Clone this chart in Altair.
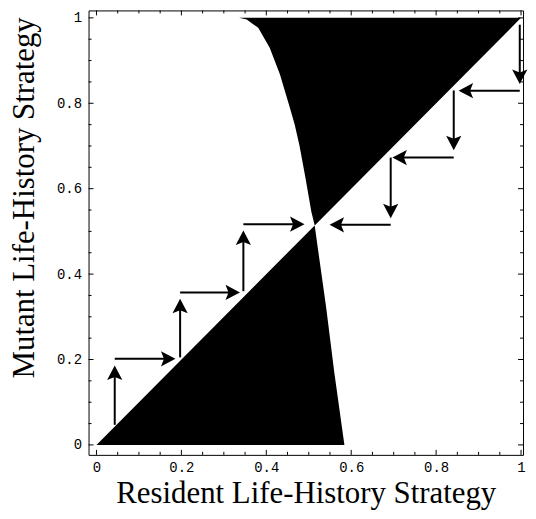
import altair as alt
import pandas as pd

# ---- data ----
# boundary where the mutant's invasion fitness changes sign (resident x, mutant y)
curve_resident = [0.336, 0.354, 0.365, 0.381, 0.408, 0.432, 0.455, 0.467, 0.478,
                  0.4925, 0.506, 0.514, 0.5215, 0.541, 0.5605, 0.584]
curve_mutant = [1.0, 0.996, 0.988, 0.977, 0.930, 0.868, 0.791, 0.750, 0.702,
                0.624, 0.5465, 0.514, 0.46, 0.322, 0.167, 0.0]
singular_strategy = 0.514

# staircase arrows (start -> tip)
arrow_x0 = [0.043, 0.043, 0.197, 0.197, 0.346, 0.346,
            0.997, 0.997, 0.8415, 0.8415, 0.693, 0.693]
arrow_y0 = [0.047, 0.2016, 0.205, 0.357, 0.36, 0.517,
            0.984, 0.8295, 0.83, 0.673, 0.673, 0.5155]
arrow_x1 = [0.043, 0.186, 0.197, 0.338, 0.346, 0.49,
            0.997, 0.853, 0.8415, 0.697, 0.693, 0.549]
arrow_y1 = [0.186, 0.2016, 0.342, 0.357, 0.502, 0.517,
            0.845, 0.8295, 0.69, 0.673, 0.531, 0.5155]

tick_major = [0, 0.2, 0.4, 0.6, 0.8, 1.0]
tick_minor = [0.05, 0.1, 0.15, 0.25, 0.3, 0.35, 0.45, 0.5, 0.55,
              0.65, 0.7, 0.75, 0.85, 0.9, 0.95]

W, H = 437, 447
xs = alt.Scale(domain=[-0.0187, 1.0047], nice=False, zero=False)
ys = alt.Scale(domain=[-0.0233, 1.0174], nice=False, zero=False)

# ---- tables ----
upper_rows = [(x, y, 1.0) for x, y in zip(curve_resident, curve_mutant) if y >= singular_strategy]
upper_rows.append((1.0, 1.0, 1.0))
upper = pd.DataFrame(upper_rows, columns=["x", "y", "y2"])

lower_rows = [(0.0, 0.0, 0.0)]
lower_rows += [(x, y, 0.0) for x, y in zip(curve_resident, curve_mutant) if y <= singular_strategy]
lower = pd.DataFrame(lower_rows, columns=["x", "y", "y2"])

arows = []
for x0, y0, x1, y1 in zip(arrow_x0, arrow_y0, arrow_x1, arrow_y1):
    dx, dy = x1 - x0, y1 - y0
    if abs(dy) > abs(dx):
        s = 1 if dy > 0 else -1
        ang = 0 if s > 0 else 180
        ex, ey = x1, y1 - 0.02 * s
    else:
        s = 1 if dx > 0 else -1
        ang = 90 if s > 0 else 270
        ex, ey = x1 - 0.02 * s, y1
    arows.append(dict(x0=x0, y0=y0, x1=x1, y1=y1, ex=ex, ey=ey, ang=ang))
arrows = pd.DataFrame(arows)

major_df = pd.DataFrame({"v": tick_major})
minor_df = pd.DataFrame({"v": tick_minor})

x_axis = alt.Axis(values=tick_major, format="~g", title="Resident Life-History Strategy",
                  grid=False, domain=False, ticks=False, labelPadding=6,
                  labelFont="Liberation Mono", labelFontSize=14, labelColor="black",
                  labelFlush=False, labelOverlap=False,
                  titleFont="Liberation Serif", titleFontSize=31, titleFontWeight="normal",
                  titleColor="black", titleY=55, titleBaseline="bottom")
y_axis = alt.Axis(values=tick_major, format="~g", title="Mutant Life-History Strategy",
                  grid=False, domain=False, ticks=False, labelPadding=7,
                  labelFont="Liberation Mono", labelFontSize=14, labelColor="black",
                  labelFlush=False, labelOverlap=False,
                  titleFont="Liberation Serif", titleFontSize=31, titleFontWeight="normal",
                  titleColor="black", titleAngle=270, titleX=-79, titleY=188,
                  titleAlign="center", titleBaseline="top")

upper_area = alt.Chart(upper).mark_area(color="black", opacity=1).encode(
    x=alt.X("x:Q", scale=xs, axis=x_axis),
    y=alt.Y("y:Q", scale=ys, axis=y_axis),
    y2="y2:Q",
)
lower_area = alt.Chart(lower).mark_area(color="black", opacity=1).encode(
    x=alt.X("x:Q", scale=xs),
    y=alt.Y("y:Q", scale=ys),
    y2="y2:Q",
)

shafts = alt.Chart(arrows).mark_rule(color="black", strokeWidth=2).encode(
    x=alt.X("x0:Q", scale=xs),
    y=alt.Y("y0:Q", scale=ys),
    x2="ex:Q", y2="ey:Q",
)
heads = alt.Chart(arrows).mark_point(
    shape="M0,0 L0.7,1.33 L0,1.05 L-0.7,1.33 Z", filled=True, size=480,
    color="black", opacity=1, strokeWidth=0,
).encode(
    x=alt.X("x1:Q", scale=xs),
    y=alt.Y("y1:Q", scale=ys),
    angle=alt.Angle("ang:Q", scale=None),
)


def frame_ticks(df, length):
    bx = alt.Chart(df).mark_rule(color="black", strokeWidth=1)
    bottom = bx.encode(x=alt.X("v:Q", scale=xs), y=alt.value(H), y2=alt.value(H - length))
    top = bx.encode(x=alt.X("v:Q", scale=xs), y=alt.value(0), y2=alt.value(length))
    left = bx.encode(y=alt.Y("v:Q", scale=ys), x=alt.value(0), x2=alt.value(length))
    right = bx.encode(y=alt.Y("v:Q", scale=ys), x=alt.value(W), x2=alt.value(W - length))
    return [bottom, top, left, right]


layers = [upper_area, lower_area] + frame_ticks(major_df, 5) + frame_ticks(minor_df, 3) + [shafts, heads]

chart = alt.layer(*layers).properties(
    width=W, height=H,
    padding=0,
    background="white",
).configure_view(stroke="black", strokeWidth=1)

chart.save("out.html", embed_options={"renderer": "svg", "actions": False})
